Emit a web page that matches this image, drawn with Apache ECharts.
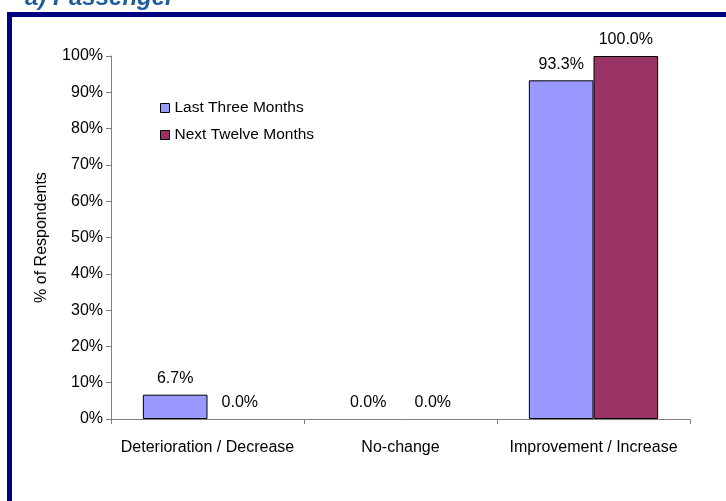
<!DOCTYPE html>
<html>
<head>
	<meta charset="utf-8">
	<title>a) Passenger</title>
	<script src="https://cdn.jsdelivr.net/npm/echarts@6/dist/echarts.min.js"></script>
	<style type="text/css">
		* {
			margin: 0;
			padding: 0;
		}

		body {
			background: #fff;
			overflow: hidden;
		}
	</style>
</head>
<body>
<div id="main" style="width: 726px;height: 501px;"></div>
<script type="text/javascript">
    var categories = ['Deterioration / Decrease', 'No-change', 'Improvement / Increase'];
    var lastThree = [6.7, 0.0, 93.3];
    var nextTwelve = [0.0, 0.0, 100.0];
    var seriesNames = ['Last Three Months', 'Next Twelve Months'];
    var colorL = ['#9999FF', '#993366'];

    var fontF = '"Liberation Sans", Arial, sans-serif';
    var myChart = echarts.init(document.getElementById('main'));

    // zero bars get no outline (otherwise a black line sits on the axis)
    function toItems(arr) {
        return arr.map(function (v) {
            return v === 0 ? {value: v, itemStyle: {borderWidth: 0}} : v;
        });
    }

    var barLabel = {
        show: true,
        position: 'top',
        distance: 8,
        color: '#000',
        fontSize: 16,
        fontFamily: fontF,
        formatter: function (p) {
            return p.value.toFixed(1) + '%';
        }
    };

    option = {
        animation: false,
        title: {
            text: 'a) Passenger',
            left: 20,
            top: -19,
            textStyle: {
                color: '#1f5c9c',
                fontSize: 24,
                fontWeight: 'bold',
                fontStyle: 'italic',
                fontFamily: fontF
            }
        },
        graphic: [{
            type: 'rect',
            shape: {x: 9.5, y: 14.5, width: 800, height: 600},
            style: {fill: 'none', stroke: '#000080', lineWidth: 5}
        }],
        grid: {
            left: 111,
            top: 56,
            right: 36,
            bottom: 82
        },
        legend: {
            orient: 'vertical',
            left: 155,
            top: 95,
            itemWidth: 9,
            itemHeight: 9,
            itemGap: 11,
            icon: 'rect',
            selectedMode: false,
            itemStyle: {borderColor: '#000', borderWidth: 1},
            textStyle: {color: '#000', fontSize: 15.5, fontFamily: fontF},
            data: seriesNames
        },
        xAxis: {
            type: 'category',
            data: categories,
            axisLine: {lineStyle: {color: '#808080', width: 1}},
            axisTick: {show: true, length: 5, lineStyle: {color: '#808080'}},
            axisLabel: {
                color: '#000',
                fontSize: 16,
                fontFamily: fontF,
                margin: 21,
                interval: 0
            },
            splitLine: {show: false}
        },
        yAxis: {
            type: 'value',
            min: 0,
            max: 100,
            interval: 10,
            name: '% of Respondents',
            nameLocation: 'middle',
            nameRotate: 90,
            nameGap: 61,
            nameTextStyle: {color: '#000', fontSize: 16, fontFamily: fontF},
            axisLine: {show: true, lineStyle: {color: '#808080', width: 1}},
            axisTick: {show: true, length: 5, lineStyle: {color: '#808080'}},
            axisLabel: {
                color: '#000',
                fontSize: 16,
                fontFamily: fontF,
                margin: 8,
                formatter: '{value}%'
            },
            splitLine: {show: false}
        },
        series: [
            {
                name: seriesNames[0],
                type: 'bar',
                data: toItems(lastThree),
                barGap: '0%',
                barCategoryGap: '33%',
                itemStyle: {color: colorL[0], borderColor: '#000', borderWidth: 1},
                label: barLabel
            },
            {
                name: seriesNames[1],
                type: 'bar',
                data: toItems(nextTwelve),
                barGap: '0%',
                barCategoryGap: '33%',
                itemStyle: {color: colorL[1], borderColor: '#000', borderWidth: 1},
                label: barLabel
            }
        ]
    };
    myChart.setOption(option);
</script>
</body>
</html>
